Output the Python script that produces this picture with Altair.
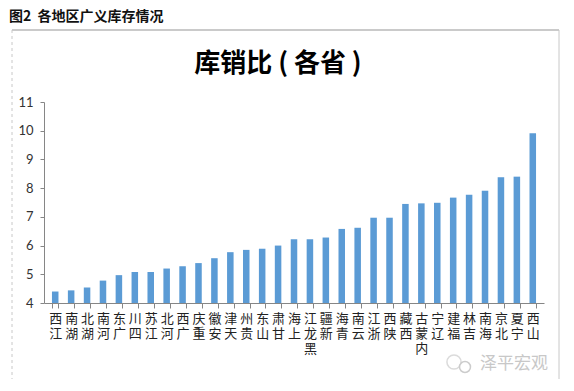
import altair as alt
import pandas as pd

provinces = ["江西", "湖南", "湖北", "河南", "广东", "四川", "江苏", "河北", "广西", "重庆",
             "安徽", "天津", "贵州", "山东", "甘肃", "上海", "黑龙江", "新疆", "青海", "云南",
             "浙江", "陕西", "西藏", "内蒙古", "辽宁", "福建", "吉林", "海南", "北京", "宁夏", "山西"]
ratios = [4.40, 4.44, 4.54, 4.78, 4.97, 5.08, 5.08, 5.20, 5.28, 5.39,
          5.56, 5.77, 5.85, 5.89, 6.00, 6.22, 6.22, 6.28, 6.58, 6.62,
          6.97, 6.97, 7.45, 7.47, 7.49, 7.67, 7.77, 7.91, 8.38, 8.40, 9.91]
y_ticks = [4, 5, 6, 7, 8, 9, 10, 11]
header_text = "图2\u00a0\u00a0各地区广义库存情况"
title_text = "库销比 ( 各省 )"
watermark_text = "泽平宏观"

df = pd.DataFrame({"province": provinces, "ratio": ratios})
one = pd.DataFrame({"header": [header_text], "title": [title_text], "wm": [watermark_text]})

W, H = 500, 201
CJK = "Noto Sans CJK SC"

bars = alt.Chart(df).mark_bar(color="#5B9BD5").encode(
    x=alt.X("province:N", sort=None, title=None,
            scale=alt.Scale(paddingInner=0.59, paddingOuter=0.5),
            axis=alt.Axis(labelAngle=0, labelBaseline="top", labelAlign="center",
                          labelExpr="reverse(split(datum.label, ''))",
                          labelLineHeight=15, labelFont=CJK, labelFontSize=13,
                          labelColor="#222222", labelPadding=4, labelOverlap=False,
                          labelLimit=0, tickBand="extent", tickSize=5,
                          domainColor="#868686", tickColor="#868686")),
    y=alt.Y("ratio:Q", title=None,
            scale=alt.Scale(domain=[4, 11], zero=False, nice=False),
            axis=alt.Axis(values=y_ticks, grid=False, tickSize=4, labelPadding=7,
                          labelFont="Lato", labelFontSize=13, labelColor="#333333",
                          domainColor="#868686", tickColor="#868686")),
    y2=alt.datum(4),
)

base1 = alt.Chart(one)
header = base1.mark_text(align="left", baseline="alphabetic", font=CJK, fontSize=14,
                         fontWeight="bold", color="#111111").encode(
    text="header:N", x=alt.value(-35), y=alt.value(-81))
title = base1.mark_text(align="center", baseline="middle", font=CJK, fontSize=26,
                        fontWeight="bold", color="#000000").encode(
    text="title:N", x=alt.value(234), y=alt.value(-38))
wm = base1.mark_text(align="left", baseline="middle", font=CJK, fontSize=17,
                     color="#c8c8c8").encode(
    text="wm:N", x=alt.value(436), y=alt.value(262))
icon_big = base1.mark_point(shape="circle", filled=False, color="#cccccc", strokeWidth=1.5,
                            size=200).encode(x=alt.value(410), y=alt.value(260))
icon_small = base1.mark_point(shape="circle", filled=True, fill="white", stroke="#cccccc",
                              strokeWidth=1.5, opacity=1, size=120).encode(
    x=alt.value(421), y=alt.value(265))

frame_col = "#c8c8c8"
top_rule = base1.mark_rule(color="#b8b8b8", strokeWidth=1.5).encode(
    x=alt.value(-32), x2=alt.value(515), y=alt.value(-72))
right_rule = base1.mark_rule(color=frame_col).encode(
    x=alt.value(515), y=alt.value(-72), y2=alt.value(283))
bottom_rule = base1.mark_rule(color=frame_col).encode(
    x=alt.value(-32), x2=alt.value(515), y=alt.value(283))
left_rule = base1.mark_rule(color=frame_col, strokeDash=[3, 3]).encode(
    x=alt.value(-32), y=alt.value(-72), y2=alt.value(283))

chart = alt.layer(top_rule, right_rule, bottom_rule, left_rule, bars, header, title,
                  icon_big, icon_small, wm).properties(
    width=W, height=H,
    autosize=alt.AutoSizeParams(type="none"),
    padding={"left": 36, "top": 94, "right": 20, "bottom": 76},
).configure_view(stroke=None)

chart.save("out.html", embed_options={"renderer": "svg", "actions": False})
